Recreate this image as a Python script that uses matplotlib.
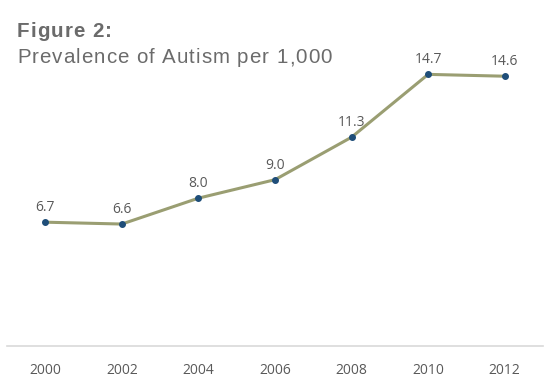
import matplotlib as mpl
mpl.use('Agg')
import matplotlib.pyplot as plt

years = ['2000', '2002', '2004', '2006', '2008', '2010', '2012']
prevalence = [6.7, 6.6, 8.0, 9.0, 11.3, 14.7, 14.6]

fig = plt.figure(figsize=(5.5, 3.8), dpi=100)
ax = fig.add_axes([0.0127, 0.0895, 0.9746, 0.778])

x = list(range(len(years)))
ax.plot(x, prevalence, color='#9A9E72', linewidth=2.2, zorder=2)
ax.scatter(x, prevalence, s=16, color='#1F4E79', zorder=3)
for xi, v in zip(x, prevalence):
    ax.annotate(f'{v:.1f}', (xi, v), xytext=(0, 5), textcoords='offset points',
                ha='center', va='bottom', fontsize=10, color='#595959',
                family='Open Sans')

ax.set_xlim(-0.5, len(years) - 0.5)
ax.set_ylim(0, 16)
ax.set_xticks(x)
ax.set_xticklabels(years, fontsize=10, color='#595959', family='Open Sans')
ax.tick_params(axis='x', length=0, pad=12)
ax.set_yticks([])
for side in ['top', 'right', 'left']:
    ax.spines[side].set_visible(False)
ax.spines['bottom'].set_color('#D9D9D9')
ax.spines['bottom'].set_linewidth(1.2)


def spaced_text(x0, y0, s, spacing, **kw):
    # draw text one char at a time to mimic letter spacing (pixels)
    renderer = fig.canvas.get_renderer()
    xpix = x0 * fig.bbox.width
    ypix = y0 * fig.bbox.height
    for ch in s:
        t = fig.text(xpix / fig.bbox.width, ypix / fig.bbox.height, ch, **kw)
        w = t.get_window_extent(renderer).width if ch != ' ' else None
        if w is None:
            t2 = fig.text(0, 0, 'a a', **kw)
            t3 = fig.text(0, 0, 'aa', **kw)
            w = t2.get_window_extent(renderer).width - t3.get_window_extent(renderer).width
            t2.remove()
            t3.remove()
        xpix += w + spacing


spaced_text(0.031, 1 - 37 / 380, 'Figure 2:', 1.0, fontsize=14.8, fontweight='bold',
            color='#6B6B6B', family='Liberation Sans')
spaced_text(0.031, 1 - 63 / 380, 'Prevalence of Autism per 1,000', 1.0, fontsize=14.8,
            color='#6B6B6B', family='Liberation Sans')

fig.savefig('out.png', dpi=100)
